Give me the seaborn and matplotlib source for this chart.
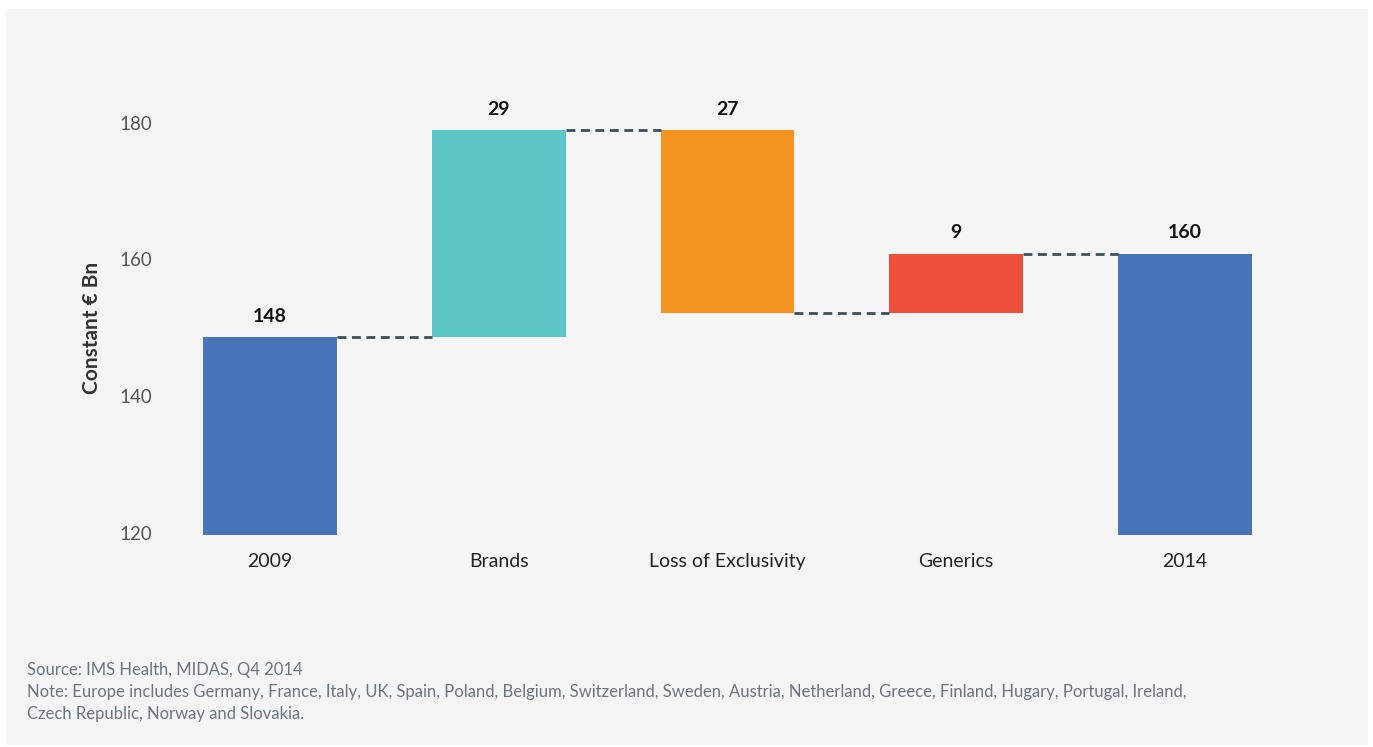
import matplotlib
matplotlib.use('Agg')
import matplotlib.pyplot as plt
from matplotlib.patches import Rectangle
import numpy as np
import seaborn as sns

# -- Data ----------------------------------------------------
categories   = ["2009", "Brands", "Loss of Exclusivity", "Generics", "2014"]
start_total  = 148.6
steps        = [30.3, -26.7, 8.6]          # Brands, LoE, Generics
value_labels = ["148", "29", "27", "9", "160"]
bar_colors   = ["#4875b9", "#5cc5c5", "#f4931f", "#ef503d", "#4875b9"]

footnotes = [
    "Source: IMS Health, MIDAS, Q4 2014",
    "Note: Europe includes Germany, France, Italy, UK, Spain, Poland, Belgium, Switzerland, "
    "Sweden, Austria, Netherland, Greece, Finland, Hugary, Portugal, Ireland,",
    "Czech Republic, Norway and Slovakia.",
]

# -- Waterfall geometry --------------------------------------
levels  = np.cumsum([start_total] + steps)       # running totals
end_total = levels[-1]
bottoms = [0] + [min(levels[i], levels[i + 1]) for i in range(len(steps))] + [0]
tops    = [start_total] + [max(levels[i], levels[i + 1]) for i in range(len(steps))] + [end_total]
heights = [t - b for t, b in zip(tops, bottoms)]

BG = "#f6f5f6"
BAR_W = 0.585
sns.set_theme(style="white")
plt.rcParams['font.family'] = ['Lato', 'DejaVu Sans']

fig = plt.figure(figsize=(13.73, 7.47), dpi=100, facecolor="white")
W, H = 1373, 747
fig.patches.append(Rectangle((6 / W, 1 - 745 / H), 1362 / W, 736 / H,
                             transform=fig.transFigure, facecolor=BG,
                             edgecolor="none", zorder=-10))

ax = fig.add_axes([170 / W, 1 - 535 / H, 1120 / W, 445 / H])
ax.set_facecolor("none")

sns.barplot(x=categories, y=heights, hue=categories, palette=bar_colors,
            width=BAR_W, saturation=1, legend=False, linewidth=0, ax=ax)
for patch, b in zip(ax.patches, bottoms):
    patch.set_y(b)

# dashed connectors between consecutive bars
half = BAR_W / 2
for i, lvl in enumerate(levels):
    ax.plot([i + half, i + 1 - half], [lvl, lvl], color="#3d4f5c",
            lw=2.0, ls=(0, (3.2, 2.0)), zorder=1)

for i, (top, lab) in enumerate(zip(tops, value_labels)):
    ax.annotate(lab, (i, top), xytext=(0, 9), textcoords="offset points",
                ha="center", va="bottom", fontsize=14, fontweight="bold",
                color="#111111")

ax.set_xlim(-0.437, 4.459)
ax.set_ylim(119.65, 184.8)
ax.set_yticks([120, 140, 160, 180])
ax.tick_params(axis="y", length=0, pad=13, labelsize=13.5, labelcolor="#555555")
ax.tick_params(axis="x", length=0, pad=13, labelsize=14, labelcolor="#222222")
ax.set_xlabel("")
ax.set_ylabel("")
sns.despine(ax=ax, left=True, bottom=True)

fig.text(92 / W, 1 - 328 / H, "Constant € Bn", rotation=90, ha="center",
         va="center", fontsize=15, fontweight="bold", color="#333333")

for k, line in enumerate(footnotes):
    fig.text(27 / W, 1 - (670 + 22 * k) / H, line, ha="left", va="center",
             fontsize=12, color="#6b7580")

fig.savefig("out.png", dpi=100, facecolor="white")
